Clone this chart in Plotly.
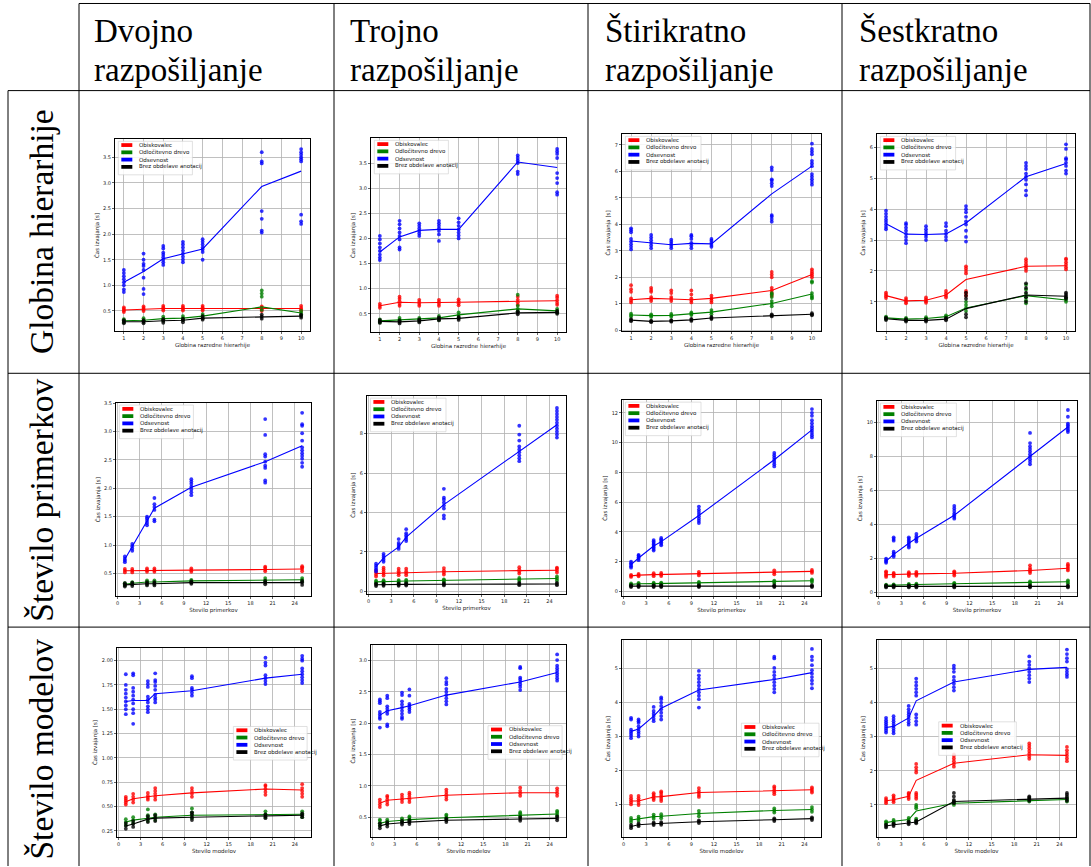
import plotly.graph_objects as go

W, H = 1091, 867

# ---------------- data ----------------
X_DEPTH = [1, 2, 3, 4, 5, 8, 10]
X_PRIM = [1, 2, 4, 5, 10, 20, 25]
X_MOD = [1, 2, 4, 5, 10, 20, 25]

SERIES_NAMES = ["Obiskovalec", "Odločitevno drevo", "Odsevnost", "Brez obdelave anotacij"]
SERIES_COLORS = ["red", "green", "blue", "black"]
COL_TITLES = [("Dvojno", "razpošiljanje"), ("Trojno", "razpošiljanje"),
              ("Štirikratno", "razpošiljanje"), ("Šestkratno", "razpošiljanje")]
ROW_TITLES = ["Globina hierarhije", "Število primerkov", "Število modelov"]
X_TITLES = ["Globina razredne hierarhije", "Število primerkov", "Število modelov"]
Y_TITLE = "Čas izvajanja [s]"

# ---- row 1, col 1
R1C1_OBI_MEAN = [0.52, 0.54, 0.55, 0.55, 0.55, 0.55, 0.55]
R1C1_OBI_PTS = [[0.48, 0.51, 0.54, 0.57], [0.5, 0.53, 0.56, 0.59], [0.51, 0.54, 0.57, 0.6], [0.51, 0.54, 0.57, 0.6], [0.51, 0.54, 0.57, 0.6], [0.5, 0.53, 0.56, 0.59], [0.5, 0.53, 0.56, 0.6]]
R1C1_ODL_MEAN = [0.31, 0.32, 0.35, 0.36, 0.40, 0.58, 0.46]
R1C1_ODL_PTS = [[0.28, 0.31, 0.34], [0.29, 0.32, 0.36], [0.31, 0.35, 0.39], [0.32, 0.36, 0.4], [0.36, 0.4, 0.44], [0.52, 0.78, 0.84, 0.9], [0.42, 0.46, 0.5]]
R1C1_ODS_MEAN = [1.06, 1.27, 1.52, 1.61, 1.71, 2.93, 3.23]
R1C1_ODS_PTS = [[0.87, 0.92, 1.0, 1.06, 1.12, 1.18, 1.24, 1.3], [0.83, 0.93, 1.15, 1.3, 1.38, 1.42, 1.5, 1.62], [1.4, 1.45, 1.5, 1.55, 1.6, 1.64, 1.72, 1.77], [1.45, 1.5, 1.56, 1.62, 1.68, 1.74, 1.8, 1.85], [1.5, 1.65, 1.7, 1.74, 1.8, 1.85, 1.9], [2.03, 2.07, 2.3, 2.45, 3.38, 3.42, 3.6], [2.2, 2.25, 2.38, 3.42, 3.46, 3.5, 3.55, 3.6, 3.66]]
R1C1_BREZ_MEAN = [0.29, 0.29, 0.31, 0.32, 0.36, 0.39, 0.40]
R1C1_BREZ_PTS = [[0.26, 0.29, 0.32], [0.26, 0.29, 0.32], [0.27, 0.31, 0.34], [0.28, 0.32, 0.35], [0.33, 0.36, 0.4], [0.35, 0.39, 0.43], [0.37, 0.4, 0.43]]

# ---- row 1, col 2
R1C2_OBI_MEAN = [0.66, 0.73, 0.72, 0.72, 0.73, 0.75, 0.76]
R1C2_OBI_PTS = [[0.62, 0.66, 0.7], [0.66, 0.7, 0.75, 0.8, 0.84], [0.66, 0.7, 0.74, 0.78], [0.66, 0.7, 0.74, 0.78], [0.67, 0.71, 0.75, 0.79], [0.68, 0.73, 0.78, 0.84], [0.68, 0.72, 0.77, 0.82, 0.86]]
R1C2_ODL_MEAN = [0.36, 0.38, 0.39, 0.42, 0.48, 0.60, 0.56]
R1C2_ODL_PTS = [[0.33, 0.36, 0.39], [0.35, 0.38, 0.42], [0.36, 0.39, 0.42], [0.38, 0.42, 0.46], [0.43, 0.48, 0.53], [0.55, 0.6, 0.66, 0.88], [0.52, 0.56, 0.6]]
R1C2_ODS_MEAN = [1.73, 2.03, 2.16, 2.18, 2.18, 3.52, 3.41]
R1C2_ODS_PTS = [[1.57, 1.62, 1.68, 1.75, 1.82, 1.9, 1.98, 2.05], [1.78, 1.82, 1.98, 2.05, 2.12, 2.2, 2.28, 2.35], [2.05, 2.1, 2.15, 2.2, 2.25, 2.3], [1.95, 2.08, 2.15, 2.2, 2.25, 2.3, 2.35], [2.0, 2.06, 2.12, 2.18, 2.25, 2.32, 2.4], [3.28, 3.33, 3.5, 3.55, 3.6, 3.65], [2.87, 2.92, 3.1, 3.2, 3.3, 3.6, 3.68, 3.73, 3.78]]
R1C2_BREZ_MEAN = [0.35, 0.34, 0.36, 0.40, 0.41, 0.52, 0.53]
R1C2_BREZ_PTS = [[0.32, 0.35, 0.38], [0.31, 0.34, 0.37], [0.33, 0.36, 0.39], [0.37, 0.4, 0.43], [0.38, 0.41, 0.44], [0.49, 0.52, 0.55], [0.5, 0.53, 0.56]]

# ---- row 1, col 3
R1C3_OBI_MEAN = [1.15, 1.20, 1.18, 1.15, 1.20, 1.50, 2.10]
R1C3_OBI_PTS = [[1.05, 1.12, 1.2, 1.45, 1.55, 1.7], [1.1, 1.18, 1.25, 1.45, 1.52, 1.6], [1.1, 1.18, 1.25, 1.4, 1.5], [1.05, 1.12, 1.2, 1.35, 1.5], [1.05, 1.12, 1.2, 1.3], [1.3, 1.4, 1.5, 1.6, 2.0, 2.1, 2.2], [2.0, 2.08, 2.15, 2.22, 2.3]]
R1C3_ODL_MEAN = [0.57, 0.55, 0.56, 0.62, 0.68, 1.01, 1.37]
R1C3_ODL_PTS = [[0.52, 0.57, 0.62], [0.5, 0.55, 0.6], [0.51, 0.56, 0.61], [0.57, 0.62, 0.67], [0.6, 0.68, 0.76], [0.9, 1.0, 1.1, 1.25, 1.35, 1.4], [1.2, 1.25, 1.3, 1.4, 1.8, 1.85]]
R1C3_ODS_MEAN = [3.37, 3.29, 3.23, 3.28, 3.26, 5.15, 6.20]
R1C3_ODS_PTS = [[3.05, 3.15, 3.25, 3.35, 3.45, 3.7, 3.78, 3.85], [3.1, 3.2, 3.3, 3.4, 3.5, 3.6], [3.1, 3.18, 3.26, 3.34, 3.42], [3.1, 3.2, 3.3, 3.45, 3.55, 3.6], [3.15, 3.22, 3.3, 3.38, 3.45], [4.1, 4.2, 4.3, 4.35, 5.45, 5.55, 5.65, 5.7, 6.05, 6.15], [5.5, 5.6, 5.7, 5.8, 5.9, 6.2, 6.3, 6.4, 6.65, 6.75, 6.85, 7.05]]
R1C3_BREZ_MEAN = [0.38, 0.33, 0.35, 0.39, 0.46, 0.56, 0.60]
R1C3_BREZ_PTS = [[0.34, 0.38, 0.42], [0.3, 0.33, 0.36], [0.32, 0.35, 0.38], [0.35, 0.39, 0.43], [0.42, 0.46, 0.5], [0.52, 0.56, 0.6], [0.56, 0.6, 0.64]]

# ---- row 1, col 4
R1C4_OBI_MEAN = [1.20, 1.03, 1.05, 1.22, 1.72, 2.15, 2.17]
R1C4_OBI_PTS = [[1.12, 1.18, 1.24, 1.3], [0.95, 1.0, 1.06, 1.12], [0.97, 1.02, 1.08, 1.14], [1.14, 1.2, 1.27, 1.35], [1.2, 1.28, 1.35, 1.92, 2.0, 2.08, 2.15], [2.0, 2.08, 2.15, 2.22, 2.3, 2.38], [2.05, 2.12, 2.2, 2.28, 2.36, 2.4]]
R1C4_ODL_MEAN = [0.48, 0.44, 0.46, 0.52, 0.80, 1.20, 1.06]
R1C4_ODL_PTS = [[0.44, 0.48, 0.52], [0.4, 0.44, 0.48], [0.42, 0.46, 0.5], [0.48, 0.52, 0.56], [0.7, 0.8, 0.9, 1.0], [0.95, 1.05, 1.15, 1.25, 1.4, 1.55], [1.0, 1.06, 1.12]]
R1C4_ODS_MEAN = [3.53, 3.19, 3.18, 3.20, 3.55, 5.05, 5.48]
R1C4_ODS_PTS = [[3.35, 3.42, 3.5, 3.58, 3.66, 3.75, 3.85, 3.95], [2.9, 3.0, 3.1, 3.2, 3.3, 3.4, 3.5, 3.55], [3.0, 3.1, 3.18, 3.26, 3.35, 3.45], [3.0, 3.1, 3.2, 3.3, 3.45, 3.55], [2.95, 3.1, 3.3, 3.5, 3.6, 3.75, 3.9, 4.0, 4.1], [4.45, 4.6, 4.8, 4.95, 5.05, 5.15, 5.3, 5.4, 5.5], [5.15, 5.25, 5.4, 5.5, 5.6, 5.65, 5.95, 6.1]]
R1C4_BREZ_MEAN = [0.45, 0.40, 0.40, 0.44, 0.78, 1.22, 1.18]
R1C4_BREZ_PTS = [[0.41, 0.45, 0.49], [0.36, 0.4, 0.44], [0.36, 0.4, 0.44], [0.4, 0.44, 0.48], [0.5, 0.6, 1.1, 1.2, 1.3], [1.0, 1.15, 1.3, 1.45, 1.6], [1.1, 1.15, 1.2, 1.25, 1.3]]

# ---- row 2, col 1
R2C1_OBI_MEAN = [0.55, 0.55, 0.56, 0.56, 0.56, 0.57, 0.58]
R2C1_OBI_PTS = [[0.52, 0.55, 0.58], [0.52, 0.55, 0.58], [0.53, 0.56, 0.59], [0.53, 0.56, 0.59], [0.53, 0.56, 0.59], [0.54, 0.57, 0.6, 0.62], [0.54, 0.58, 0.61, 0.63]]
R2C1_ODL_MEAN = [0.31, 0.33, 0.35, 0.35, 0.37, 0.38, 0.39]
R2C1_ODL_PTS = [[0.29, 0.31, 0.33], [0.31, 0.33, 0.35], [0.32, 0.35, 0.38], [0.32, 0.35, 0.38], [0.35, 0.37, 0.39], [0.35, 0.38, 0.42], [0.36, 0.39, 0.42]]
R2C1_ODS_MEAN = [0.75, 0.97, 1.42, 1.65, 2.02, 2.47, 2.75]
R2C1_ODS_PTS = [[0.7, 0.73, 0.76, 0.8], [0.9, 0.94, 0.98, 1.02], [1.35, 1.39, 1.43, 1.47, 1.5], [1.42, 1.45, 1.62, 1.67, 1.72, 1.83], [1.88, 1.93, 1.98, 2.03, 2.08, 2.12, 2.16], [2.1, 2.14, 2.36, 2.4, 2.47, 2.56, 2.6, 2.94, 3.22], [2.38, 2.45, 2.52, 2.57, 2.62, 2.67, 2.72, 2.84, 2.97, 3.1, 3.13, 3.33]]
R2C1_BREZ_MEAN = [0.30, 0.31, 0.32, 0.32, 0.34, 0.34, 0.34]
R2C1_BREZ_PTS = [[0.27, 0.3, 0.33], [0.28, 0.31, 0.34], [0.29, 0.32, 0.35], [0.29, 0.32, 0.35], [0.32, 0.34, 0.36], [0.31, 0.34, 0.37], [0.3, 0.34, 0.37]]

# ---- row 2, col 2
R2C2_OBI_MEAN = [0.90, 0.92, 0.93, 0.94, 0.99, 1.05, 1.07]
R2C2_OBI_PTS = [[0.75, 0.85, 0.95, 1.05], [0.8, 0.9, 1.0, 1.1, 1.2], [0.82, 0.92, 1.02, 1.15], [0.82, 0.92, 1.02, 1.15], [0.85, 0.95, 1.05, 1.18], [0.9, 1.0, 1.1, 1.22], [0.95, 1.05, 1.15, 1.2]]
R2C2_ODL_MEAN = [0.48, 0.50, 0.51, 0.52, 0.55, 0.60, 0.65]
R2C2_ODL_PTS = [[0.42, 0.48, 0.54], [0.44, 0.5, 0.56], [0.45, 0.51, 0.57], [0.46, 0.52, 0.58], [0.49, 0.55, 0.61], [0.52, 0.6, 0.68], [0.55, 0.65, 0.75]]
R2C2_ODS_MEAN = [1.25, 1.70, 2.25, 2.75, 4.40, 7.10, 8.45]
R2C2_ODS_PTS = [[1.0, 1.1, 1.2, 1.3, 1.4], [1.5, 1.6, 1.7, 1.8, 1.9], [2.15, 2.25, 2.35, 2.45, 2.65], [2.55, 2.65, 2.75, 2.85, 2.95, 3.15], [3.7, 3.85, 4.2, 4.35, 4.5, 4.65, 4.75, 5.2], [6.6, 6.75, 6.9, 7.05, 7.2, 7.35, 7.65, 7.95, 8.4], [7.8, 7.95, 8.1, 8.25, 8.4, 8.55, 8.7, 8.85, 9.0, 9.15, 9.3]]
R2C2_BREZ_MEAN = [0.33, 0.34, 0.34, 0.35, 0.36, 0.37, 0.37]
R2C2_BREZ_PTS = [[0.27, 0.33, 0.39], [0.28, 0.34, 0.4], [0.28, 0.34, 0.4], [0.29, 0.35, 0.41], [0.3, 0.36, 0.42], [0.31, 0.37, 0.43], [0.31, 0.37, 0.43]]

# ---- row 2, col 3
R2C3_OBI_MEAN = [1.05, 1.10, 1.13, 1.14, 1.20, 1.28, 1.35]
R2C3_OBI_PTS = [[0.98, 1.05, 1.12], [1.02, 1.1, 1.18], [1.03, 1.13, 1.23], [1.04, 1.14, 1.24], [1.08, 1.2, 1.32], [1.15, 1.28, 1.42], [1.25, 1.35, 1.45]]
R2C3_ODL_MEAN = [0.48, 0.52, 0.53, 0.54, 0.57, 0.65, 0.72]
R2C3_ODL_PTS = [[0.42, 0.48, 0.54], [0.46, 0.52, 0.58], [0.47, 0.53, 0.59], [0.48, 0.54, 0.6], [0.5, 0.57, 0.64], [0.57, 0.65, 0.73], [0.63, 0.72, 0.81]]
R2C3_ODS_MEAN = [1.80, 2.25, 3.05, 3.35, 5.10, 8.85, 10.85]
R2C3_ODS_PTS = [[1.6, 1.7, 1.8, 1.9, 2.0], [2.1, 2.2, 2.3, 2.4, 2.45], [2.75, 2.85, 2.95, 3.05, 3.15, 3.25, 3.35, 3.45], [3.1, 3.2, 3.3, 3.4, 3.5, 3.6], [4.6, 4.75, 4.9, 5.05, 5.2, 5.35, 5.5, 5.7], [8.4, 8.55, 8.7, 8.85, 9.0, 9.15, 9.3], [10.35, 10.5, 10.65, 10.8, 10.95, 11.1, 11.3, 11.5, 11.8, 12.0, 12.25]]
R2C3_BREZ_MEAN = [0.36, 0.36, 0.36, 0.36, 0.36, 0.36, 0.36]
R2C3_BREZ_PTS = [[0.3, 0.36, 0.42], [0.3, 0.36, 0.42], [0.3, 0.36, 0.42], [0.3, 0.36, 0.42], [0.3, 0.36, 0.42], [0.3, 0.36, 0.42], [0.3, 0.36, 0.42]]

# ---- row 2, col 4
R2C4_OBI_MEAN = [1.05, 1.07, 1.08, 1.10, 1.13, 1.30, 1.43]
R2C4_OBI_PTS = [[0.92, 1.0, 1.08, 1.18, 1.25], [0.95, 1.03, 1.1, 1.15], [0.97, 1.05, 1.12, 1.2], [0.98, 1.06, 1.14, 1.22], [1.0, 1.1, 1.18, 1.25], [1.15, 1.25, 1.35, 1.45, 1.6], [1.3, 1.4, 1.5, 1.6, 1.68]]
R2C4_ODL_MEAN = [0.42, 0.44, 0.46, 0.47, 0.52, 0.58, 0.63]
R2C4_ODL_PTS = [[0.38, 0.42, 0.46], [0.4, 0.44, 0.48], [0.42, 0.46, 0.5], [0.42, 0.47, 0.52], [0.47, 0.52, 0.57], [0.5, 0.58, 0.66], [0.55, 0.63, 0.72]]
R2C4_ODS_MEAN = [1.85, 2.25, 2.90, 3.20, 4.55, 8.05, 9.75]
R2C4_ODS_PTS = [[1.75, 1.82, 1.9, 2.0], [2.1, 2.2, 2.3, 2.4, 3.05, 3.15, 3.25], [2.65, 2.75, 2.85, 2.95, 3.05, 3.15, 3.25], [3.0, 3.1, 3.2, 3.3, 3.45], [4.35, 4.45, 4.55, 4.65, 4.8, 4.95, 5.1], [7.55, 7.7, 7.85, 8.0, 8.15, 8.3, 8.45, 8.6, 8.8, 9.4], [9.45, 9.55, 9.65, 9.75, 9.85, 9.95, 10.35, 10.75]]
R2C4_BREZ_MEAN = [0.36, 0.36, 0.36, 0.36, 0.36, 0.36, 0.36]
R2C4_BREZ_PTS = [[0.3, 0.36, 0.42], [0.3, 0.36, 0.42], [0.3, 0.36, 0.42], [0.3, 0.36, 0.42], [0.3, 0.36, 0.42], [0.3, 0.36, 0.42], [0.3, 0.36, 0.42]]

# ---- row 3, col 1
R3C1_OBI_MEAN = [0.55, 0.58, 0.60, 0.61, 0.64, 0.68, 0.67]
R3C1_OBI_PTS = [[0.52, 0.54, 0.56, 0.58, 0.6], [0.54, 0.57, 0.6, 0.63], [0.57, 0.59, 0.61, 0.64], [0.57, 0.6, 0.63, 0.66, 0.69], [0.6, 0.63, 0.66, 0.69], [0.62, 0.65, 0.68, 0.71, 0.72], [0.6, 0.63, 0.66, 0.69, 0.73]]
R3C1_ODL_MEAN = [0.34, 0.36, 0.38, 0.39, 0.41, 0.42, 0.42]
R3C1_ODL_PTS = [[0.31, 0.34, 0.37], [0.33, 0.36, 0.39], [0.35, 0.38, 0.41, 0.47], [0.36, 0.39, 0.42], [0.38, 0.41, 0.44, 0.48], [0.39, 0.42, 0.45], [0.39, 0.42, 0.45]]
R3C1_ODS_MEAN = [1.58, 1.59, 1.59, 1.66, 1.69, 1.82, 1.86]
R3C1_ODS_PTS = [[1.45, 1.5, 1.54, 1.58, 1.62, 1.66, 1.7, 1.75, 1.86], [1.35, 1.46, 1.5, 1.56, 1.6, 1.64, 1.68, 1.72, 1.85, 1.87], [1.47, 1.5, 1.53, 1.57, 1.6, 1.63, 1.73, 1.76, 1.79], [1.57, 1.6, 1.62, 1.65, 1.7, 1.74, 1.78, 1.8, 1.87], [1.64, 1.67, 1.7, 1.72, 1.82, 1.84], [1.76, 1.79, 1.82, 1.85, 1.95, 1.98, 2.03], [1.77, 1.8, 1.83, 1.86, 1.89, 1.92, 2.0, 2.02, 2.05]]
R3C1_BREZ_MEAN = [0.30, 0.32, 0.37, 0.38, 0.39, 0.40, 0.41]
R3C1_BREZ_PTS = [[0.27, 0.3, 0.33], [0.29, 0.32, 0.35], [0.34, 0.37, 0.4], [0.35, 0.38, 0.41], [0.36, 0.39, 0.42, 0.44], [0.38, 0.4, 0.42], [0.39, 0.41, 0.43]]

# ---- row 3, col 2
R3C2_OBI_MEAN = [0.72, 0.77, 0.79, 0.80, 0.85, 0.89, 0.89]
R3C2_OBI_PTS = [[0.66, 0.7, 0.74, 0.78], [0.7, 0.74, 0.78, 0.82, 0.84], [0.74, 0.78, 0.82, 0.86], [0.74, 0.78, 0.82, 0.86, 0.89], [0.78, 0.82, 0.86, 0.9, 0.94], [0.84, 0.88, 0.92, 0.97], [0.84, 0.88, 0.92, 0.96]]
R3C2_ODL_MEAN = [0.40, 0.43, 0.45, 0.46, 0.49, 0.53, 0.55]
R3C2_ODL_PTS = [[0.36, 0.4, 0.44, 0.46], [0.4, 0.43, 0.46], [0.42, 0.45, 0.48], [0.43, 0.46, 0.49, 0.51], [0.46, 0.49, 0.52, 0.54], [0.5, 0.53, 0.56, 0.58], [0.52, 0.55, 0.58, 0.6]]
R3C2_ODS_MEAN = [2.13, 2.20, 2.25, 2.28, 2.45, 2.66, 2.81]
R3C2_ODS_PTS = [[1.93, 2.07, 2.1, 2.14, 2.18, 2.32, 2.35, 2.38], [1.95, 1.98, 2.15, 2.19, 2.23, 2.27, 2.4, 2.44], [2.07, 2.1, 2.15, 2.2, 2.25, 2.3, 2.35, 2.45, 2.49], [2.18, 2.22, 2.25, 2.28, 2.31, 2.44, 2.54], [2.3, 2.35, 2.4, 2.45, 2.5, 2.55, 2.62, 2.66, 2.72], [2.53, 2.58, 2.62, 2.66, 2.7, 2.73, 2.88, 2.9], [2.68, 2.72, 2.76, 2.8, 2.84, 2.88, 2.92, 3.01, 3.1]]
R3C2_BREZ_MEAN = [0.36, 0.39, 0.41, 0.42, 0.45, 0.47, 0.48]
R3C2_BREZ_PTS = [[0.32, 0.36, 0.4], [0.35, 0.39, 0.42], [0.38, 0.41, 0.44], [0.39, 0.42, 0.45], [0.42, 0.45, 0.48], [0.44, 0.47, 0.5], [0.45, 0.48, 0.51]]

# ---- row 3, col 3
R3C3_OBI_MEAN = [1.10, 1.10, 1.22, 1.23, 1.35, 1.41, 1.43]
R3C3_OBI_PTS = [[1.0, 1.06, 1.12, 1.18, 1.25], [0.98, 1.05, 1.12, 1.18, 1.25], [1.13, 1.18, 1.23, 1.28, 1.33], [1.1, 1.16, 1.22, 1.28, 1.34, 1.38], [1.22, 1.28, 1.34, 1.4, 1.48], [1.3, 1.36, 1.42, 1.48, 1.53], [1.35, 1.4, 1.45, 1.5]]
R3C3_ODL_MEAN = [0.54, 0.58, 0.64, 0.65, 0.73, 0.82, 0.85]
R3C3_ODL_PTS = [[0.48, 0.54, 0.6], [0.52, 0.58, 0.64], [0.58, 0.64, 0.7], [0.59, 0.65, 0.71], [0.65, 0.73, 0.81], [0.76, 0.82, 0.88], [0.78, 0.85, 0.92]]
R3C3_ODS_MEAN = [3.15, 3.22, 3.60, 3.83, 4.37, 4.68, 4.88]
R3C3_ODS_PTS = [[2.95, 3.02, 3.08, 3.14, 3.2, 3.5, 3.55], [3.0, 3.08, 3.15, 3.22, 3.3, 3.4, 3.45, 3.5], [3.45, 3.52, 3.6, 3.67, 3.75, 3.87], [3.5, 3.6, 3.7, 3.8, 3.9, 4.0, 4.1, 4.15], [3.85, 4.1, 4.2, 4.3, 4.4, 4.5, 4.6, 4.7, 4.8, 4.93], [4.3, 4.4, 4.5, 4.6, 4.7, 4.8, 4.9, 5.02, 5.3, 5.35], [4.42, 4.55, 4.65, 4.75, 4.85, 4.95, 5.1, 5.25, 5.35, 5.58]]
R3C3_BREZ_MEAN = [0.35, 0.40, 0.43, 0.44, 0.49, 0.55, 0.58]
R3C3_BREZ_PTS = [[0.3, 0.35, 0.4], [0.36, 0.4, 0.44], [0.39, 0.43, 0.47], [0.4, 0.44, 0.48], [0.45, 0.49, 0.53], [0.51, 0.55, 0.59], [0.54, 0.58, 0.62]]

# ---- row 3, col 4
R3C4_OBI_MEAN = [1.12, 1.15, 1.25, 1.72, 2.22, 2.47, 2.45]
R3C4_OBI_PTS = [[1.05, 1.1, 1.15, 1.2], [1.08, 1.13, 1.18, 1.23, 1.28], [1.17, 1.22, 1.27, 1.32, 1.35], [1.18, 1.24, 1.3, 1.35, 1.95, 2.02, 2.1, 2.2], [2.12, 2.2, 2.28, 2.36, 2.44, 2.48], [2.35, 2.42, 2.5, 2.58, 2.66, 2.73, 2.8], [2.28, 2.36, 2.44, 2.52, 2.6, 2.7]]
R3C4_ODL_MEAN = [0.48, 0.52, 0.57, 0.82, 1.05, 1.13, 1.16]
R3C4_ODL_PTS = [[0.44, 0.48, 0.52], [0.48, 0.52, 0.56], [0.52, 0.57, 0.62], [0.5, 0.55, 0.6, 0.9, 0.95, 1.0], [1.0, 1.05, 1.1], [1.1, 1.14, 1.18], [1.1, 1.15, 1.2]]
R3C4_ODS_MEAN = [3.27, 3.30, 3.55, 4.05, 4.60, 4.97, 5.03]
R3C4_ODS_PTS = [[3.12, 3.18, 3.24, 3.3, 3.36, 3.42, 3.48, 3.55], [3.1, 3.17, 3.24, 3.31, 3.38, 3.45, 3.52, 3.6], [3.35, 3.42, 3.5, 3.58, 3.65, 3.72, 3.8, 3.9], [3.35, 3.45, 3.55, 3.65, 4.2, 4.3, 4.4, 4.5, 4.6, 4.7], [4.35, 4.45, 4.55, 4.65, 4.75, 4.9, 5.0, 5.08], [4.6, 4.7, 4.8, 4.9, 5.0, 5.1, 5.2, 5.35], [4.75, 4.82, 4.9, 4.98, 5.2, 5.3, 5.42, 5.55]]
R3C4_BREZ_MEAN = [0.38, 0.42, 0.47, 0.50, 1.10, 1.17, 1.20]
R3C4_BREZ_PTS = [[0.34, 0.38, 0.42], [0.38, 0.42, 0.46], [0.43, 0.47, 0.51], [0.46, 0.5, 0.54], [1.05, 1.1, 1.15, 1.25, 1.35], [1.12, 1.17, 1.22, 1.25], [1.12, 1.18, 1.24, 1.3, 1.35]]

# ---------------- panel configuration (layout only) ----------------
g = globals()
ROW_X = [X_DEPTH, X_PRIM, X_MOD]
# pixel boxes of the axes: left, right, top, bottom
BOXES = [
    [(115, 310, 137, 330), (371, 566, 136, 331), (622, 821, 132, 330), (877, 1075, 132, 330)],
    [(116, 311, 402, 596), (367, 566, 395, 594), (622, 821, 399, 596), (877, 1077, 400, 596)],
    [(117, 311, 648, 838), (371, 566, 645, 838), (622, 821, 640, 838), (877, 1076, 640, 838)],
]
YRANGES = [
    [(0.10, 3.85, 0.5, ".1f"), (0.13, 3.99, 0.5, ".1f"), (-0.05, 7.4, 1, "d"), (0.04, 6.42, 1, "d")],
    [(0.10, 3.5, 0.5, ".1f"), (-0.15, 9.9, 2, "d"), (-0.32, 12.85, 2, "d"), (-0.22, 11.27, 2, "d")],
    [(0.185, 2.13, 0.25, ".2f"), (0.18, 3.25, 0.5, ".1f"), (0.036, 5.84, 1, "d"), (0.056, 5.83, 1, "d")],
]
XRANGES = [(0.55, 10.45), (-0.2, 26.2), (-0.2, 26.2)]
XTICKS = [list(range(1, 11)), list(range(0, 25, 3)), list(range(0, 25, 3))]
# legend position in axes fraction: x0, y_top, width
LEGENDS = [
    [(0.017, 0.99, 0.38)] * 4,
    [(0.017, 0.99, 0.38)] * 4,
    [(0.60, 0.585, 0.38), (0.60, 0.58, 0.38), (0.60, 0.578, 0.39), (0.31, 0.585, 0.39)],
]
KEYS = ["OBI", "ODL", "ODS", "BREZ"]

fig = go.Figure()
shapes, annotations = [], []


def aid(n):
    return "" if n == 1 else str(n)


FONT = "DejaVu Sans"
n = 0
for r in range(3):
    for c in range(4):
        n += 1
        xs = ROW_X[r]
        xa, ya = "x" + aid(n), "y" + aid(n)
        for k, key in enumerate(KEYS):
            mean = g[f"R{r+1}C{c+1}_{key}_MEAN"]
            pts = g[f"R{r+1}C{c+1}_{key}_PTS"]
            px, py = [], []
            for x, vals in zip(xs, pts):
                for v in vals:
                    px.append(x)
                    py.append(v)
            col = SERIES_COLORS[k]
            fig.add_trace(go.Scatter(x=px, y=py, mode="markers", xaxis=xa, yaxis=ya,
                                     marker=dict(color=col, size=3.8, opacity=0.8),
                                     showlegend=False, hoverinfo="skip"))
            fig.add_trace(go.Scatter(x=xs, y=mean, mode="lines", xaxis=xa, yaxis=ya,
                                     line=dict(color=col, width=1.1),
                                     showlegend=False, name=SERIES_NAMES[k]))
        l, rr, t, b = BOXES[r][c]
        y0, y1, dt, fmt = YRANGES[r][c]
        axcommon = dict(showgrid=True, gridcolor="#b0b0b0", gridwidth=0.8, zeroline=False,
                        showline=True, mirror=True, linecolor="black", linewidth=1,
                        ticks="outside", ticklen=2, tickwidth=0.6, tickcolor="black",
                        tickfont=dict(size=5, family=FONT, color="#222"))
        fig.layout["xaxis" + aid(n)] = dict(
            domain=[l / W, rr / W], anchor=ya, range=list(XRANGES[r]), tickvals=XTICKS[r],
            title=dict(text=X_TITLES[r], font=dict(size=5.5, family=FONT, color="#222"), standoff=2),
            **axcommon)
        fig.layout["yaxis" + aid(n)] = dict(
            domain=[1 - b / H, 1 - t / H], anchor=xa, range=[y0, y1], tick0=0, dtick=dt,
            tickformat=fmt,
            title=dict(text=Y_TITLE, font=dict(size=5.5, family=FONT, color="#222"), standoff=3),
            **axcommon)
        # legend box drawn in axes-fraction coordinates
        lx, ly, lw = LEGENDS[r][c]
        ah = (b - t)
        aw = (rr - l)
        step = 7.3 / ah
        lh = (4 * 7.3 + 4.5) / ah
        xr_, yr_ = xa + " domain", ya + " domain"
        shapes.append(dict(type="rect", xref=xr_, yref=yr_, x0=lx, x1=lx + lw, y0=ly - lh, y1=ly,
                           fillcolor="rgba(255,255,255,0.85)", line=dict(color="#cccccc", width=0.6),
                           layer="above"))
        for k in range(4):
            yc = ly - (3.8 / ah) - k * step
            shapes.append(dict(type="rect", xref=xr_, yref=yr_,
                               x0=lx + 3 / aw, x1=lx + 14 / aw,
                               y0=yc - 1.9 / ah, y1=yc + 1.9 / ah,
                               fillcolor=SERIES_COLORS[k], line=dict(width=0), layer="above"))
            annotations.append(dict(xref=xr_, yref=yr_, x=lx + 19 / aw, y=yc, text=SERIES_NAMES[k],
                                    showarrow=False, xanchor="left", yanchor="middle",
                                    font=dict(size=5.5, family=FONT, color="#111")))

# ---------------- table frame ----------------
LINE = dict(color="black", width=1)


def px_x(v):
    return v / W


def px_y(v):
    return 1 - v / H


VX = [79, 334, 588, 842, 1090]
HY = [88, 372, 627]
for x in VX:
    shapes.append(dict(type="line", xref="paper", yref="paper", x0=px_x(x), x1=px_x(x),
                       y0=px_y(0.5), y1=px_y(867), line=LINE))
shapes.append(dict(type="line", xref="paper", yref="paper", x0=px_x(8), x1=px_x(8),
                   y0=px_y(88), y1=px_y(867), line=LINE))
shapes.append(dict(type="line", xref="paper", yref="paper", x0=px_x(79), x1=px_x(1090),
                   y0=px_y(0.5), y1=px_y(0.5), line=LINE))
for y in HY:
    shapes.append(dict(type="line", xref="paper", yref="paper", x0=px_x(8), x1=px_x(1090),
                       y0=px_y(y), y1=px_y(y), line=LINE))

SERIF = "Liberation Serif"
COL_LEFT = [92, 348, 603, 857]
for c, (a, b2) in enumerate(COL_TITLES):
    annotations.append(dict(xref="paper", yref="paper", x=px_x(COL_LEFT[c]), y=px_y(28), text=a,
                            showarrow=False, xanchor="left", yanchor="middle",
                            font=dict(size=33, family=SERIF, color="black")))
    annotations.append(dict(xref="paper", yref="paper", x=px_x(COL_LEFT[c]), y=px_y(67), text=b2,
                            showarrow=False, xanchor="left", yanchor="middle",
                            font=dict(size=33, family=SERIF, color="black")))
ROW_CY = [230, 500, 750]
for r, txt in enumerate(ROW_TITLES):
    annotations.append(dict(xref="paper", yref="paper", x=px_x(42), y=px_y(ROW_CY[r]), text=txt,
                            showarrow=False, textangle=-90, xanchor="center", yanchor="middle",
                            font=dict(size=33.5, family=SERIF, color="black")))

fig.update_layout(width=W, height=H, margin=dict(l=0, r=0, t=0, b=0),
                  paper_bgcolor="white", plot_bgcolor="white", showlegend=False,
                  shapes=shapes, annotations=annotations)
fig.write_html("out.html", config={"displayModeBar": False, "staticPlot": True},
               post_script="document.body.style.margin='0px';document.body.style.overflow='hidden';")
